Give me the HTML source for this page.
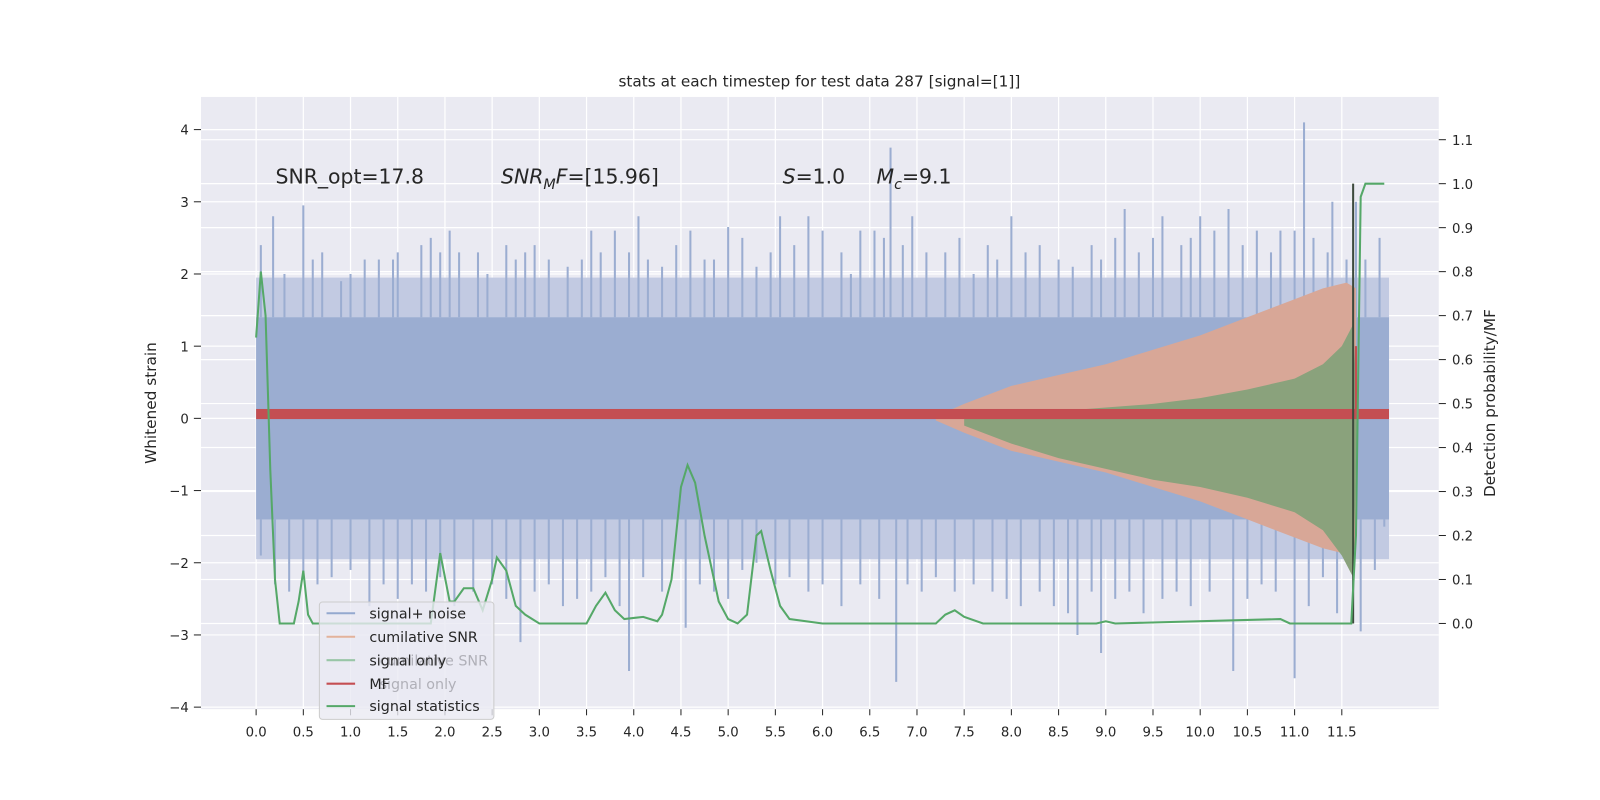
<!DOCTYPE html>
<html><head><meta charset="utf-8">
<style>
html,body{margin:0;padding:0;width:1600px;height:800px;overflow:hidden;background:#fff;}
svg{display:block;position:absolute;left:0;top:0;font-family:"DejaVu Sans","Liberation Sans",sans-serif;}
</style></head>
<body>
<svg id="chart" width="1600" height="800" viewBox="0 0 1600 800" xmlns="http://www.w3.org/2000/svg">
<g transform="scale(1.0204)">
<rect x="197" y="95" width="1213" height="600" fill="#eaeaf2"/>
<g id="grid"></g>
<g id="marks"></g>
<g id="axes"></g>
<text x="803" y="85" text-anchor="middle" font-size="15" fill="#262626">stats at each timestep for test data 287 [signal=[1]]</text>
<text x="270" y="180" font-size="20" fill="#262626">SNR_opt=17.8</text>
<text x="491" y="180" font-size="20" fill="#262626"><tspan font-style="italic">SNR</tspan><tspan font-style="italic" font-size="14" dy="5">M</tspan><tspan font-style="italic" dy="-5">F</tspan>=[15.96]</text>
<text x="767" y="180" font-size="20" fill="#262626"><tspan font-style="italic">S</tspan>=1.0</text>
<text x="859" y="180" font-size="20" fill="#262626"><tspan font-style="italic">M</tspan><tspan font-style="italic" font-size="14" dy="5">c</tspan><tspan dy="-5">=9.1</tspan></text>
<text transform="translate(153,395) rotate(-90)" text-anchor="middle" font-size="15" fill="#262626">Whitened strain</text>
<text transform="translate(1465,395) rotate(-90)" text-anchor="middle" font-size="15" fill="#262626">Detection probability/MF</text>
<g>
<rect x="313" y="590" width="171" height="115" rx="3" fill="#eaeaf2" fill-opacity="0.8" stroke="#cccccc"/>
<text x="372" y="652" font-size="14" fill="#b0b0b8">cumilative SNR</text>
<text x="372" y="675" font-size="14" fill="#b0b0b8">signal only</text>
<g><line x1="320" y1="601" x2="348" y2="601" stroke="#4c72b0" stroke-opacity="0.55" stroke-width="2"/><text x="362" y="606" font-size="14" fill="#262626">signal+ noise</text></g>
<g><line x1="320" y1="624" x2="348" y2="624" stroke="#dd8452" stroke-opacity="0.55" stroke-width="2"/><text x="362" y="629" font-size="14" fill="#262626">cumilative SNR</text></g>
<g><line x1="320" y1="647" x2="348" y2="647" stroke="#55a868" stroke-opacity="0.55" stroke-width="2"/><text x="362" y="652" font-size="14" fill="#262626">signal only</text></g>
<g><line x1="320" y1="670" x2="348" y2="670" stroke="#c44e52" stroke-width="2"/><text x="362" y="675" font-size="14" fill="#262626">MF</text></g>
<g><line x1="320" y1="692" x2="348" y2="692" stroke="#55a868" stroke-width="2"/><text x="362" y="697" font-size="14" fill="#262626">signal statistics</text></g>
</g>
</g>
</svg>
<script>
const xTicks=[0,0.5,1,1.5,2,2.5,3,3.5,4,4.5,5,5.5,6,6.5,7,7.5,8,8.5,9,9.5,10,10.5,11,11.5];
const yTicks=[-4,-3,-2,-1,0,1,2,3,4];
const y2Ticks=[0,0.1,0.2,0.3,0.4,0.5,0.6,0.7,0.8,0.9,1.0,1.1];
const coreBand=[1.4,-1.4];
const fringeBand=[1.95,-1.95];
const tEnd=12.0;
const topSpikeT=[0.05,0.18,0.3,0.5,0.6,0.7,0.9,1.0,1.15,1.3,1.45,1.5,1.75,1.85,1.95,2.05,2.15,2.35,2.45,2.65,2.75,2.85,2.95,3.1,3.3,3.45,3.55,3.65,3.8,3.95,4.05,4.15,4.3,4.45,4.6,4.75,4.85,5.0,5.15,5.3,5.45,5.55,5.7,5.85,6.0,6.2,6.3,6.4,6.55,6.65,6.72,6.85,6.95,7.1,7.3,7.45,7.6,7.75,7.85,8.0,8.15,8.3,8.5,8.65,8.85,8.95,9.1,9.2,9.35,9.5,9.6,9.8,9.9,10.0,10.15,10.3,10.45,10.6,10.75,10.85,11.0,11.1,11.2,11.35,11.4,11.55,11.65,11.75,11.9];
const topSpikeV=[2.4,2.8,2.0,2.95,2.2,2.3,1.9,2.0,2.2,2.2,2.2,2.3,2.4,2.5,2.3,2.6,2.3,2.3,2.0,2.4,2.2,2.3,2.4,2.2,2.1,2.2,2.6,2.3,2.6,2.3,2.8,2.2,2.1,2.4,2.6,2.2,2.2,2.65,2.5,2.1,2.3,2.8,2.4,2.8,2.6,2.3,2.0,2.6,2.6,2.5,3.75,2.4,2.8,2.3,2.3,2.5,2.0,2.4,2.2,2.8,2.3,2.4,2.2,2.1,2.4,2.2,2.5,2.9,2.3,2.5,2.8,2.4,2.5,2.8,2.6,2.9,2.4,2.6,2.3,2.6,2.6,4.1,2.5,2.3,3.0,2.2,3.0,2.2,2.5];
const botSpikeT=[0.05,0.2,0.35,0.5,0.65,0.8,1.0,1.2,1.35,1.5,1.65,1.8,1.95,2.1,2.3,2.5,2.65,2.8,2.95,3.1,3.25,3.4,3.55,3.7,3.85,3.95,4.1,4.3,4.55,4.7,4.85,5.0,5.15,5.3,5.5,5.65,5.85,6.0,6.2,6.4,6.6,6.78,6.9,7.05,7.2,7.4,7.6,7.8,7.95,8.1,8.3,8.45,8.6,8.7,8.85,8.95,9.1,9.25,9.4,9.6,9.75,9.9,10.1,10.35,10.5,10.65,10.8,11.0,11.15,11.3,11.45,11.7,11.85,11.95];
const botSpikeV=[-1.9,-2.3,-2.4,-2.2,-2.3,-2.2,-2.1,-2.6,-2.3,-2.5,-2.3,-2.4,-2.2,-2.6,-2.4,-2.3,-2.5,-3.1,-2.4,-2.3,-2.6,-2.5,-2.4,-2.2,-2.6,-3.5,-2.2,-2.4,-2.9,-2.3,-2.4,-2.5,-2.1,-2.0,-2.3,-2.2,-2.4,-2.3,-2.6,-2.3,-2.5,-3.65,-2.3,-2.4,-2.2,-2.4,-2.3,-2.4,-2.5,-2.6,-2.4,-2.6,-2.7,-3.0,-2.4,-3.25,-2.5,-2.4,-2.7,-2.5,-2.4,-2.6,-2.4,-3.5,-2.5,-2.3,-2.4,-3.6,-2.6,-2.2,-2.7,-2.95,-2.1,-1.5];
const snrT=[7.2,7.5,8,8.5,9,9.5,10,10.5,11,11.3,11.55,11.65];
const snrV=[0.03,0.2,0.45,0.6,0.75,0.95,1.15,1.4,1.65,1.8,1.88,1.8];
const sigT=[7.5,8,8.5,9,9.5,10,10.5,11,11.3,11.5,11.62,11.66];
const sigUp=[0.02,0.05,0.1,0.15,0.2,0.28,0.4,0.55,0.75,1.0,1.3,0.2];
const sigLow=[-0.1,-0.35,-0.55,-0.7,-0.85,-0.95,-1.1,-1.3,-1.55,-1.9,-2.2,-0.2];
const mfBand=[0.13,-0.01];
const mfSpikeT=11.65, mfSpikeV=1.0;
const statT=[0,0.05,0.1,0.15,0.2,0.25,0.3,0.4,0.45,0.5,0.55,0.6,1.85,1.95,2.05,2.1,2.2,2.3,2.4,2.5,2.55,2.65,2.75,2.85,3.0,3.5,3.6,3.7,3.8,3.9,4.1,4.25,4.3,4.4,4.5,4.57,4.65,4.75,4.9,5.0,5.1,5.2,5.3,5.35,5.45,5.55,5.65,6.0,7.2,7.3,7.4,7.5,7.7,8.9,9.0,9.1,10.85,10.95,11.6,11.65,11.7,11.75,11.95];
const statV=[0.65,0.8,0.7,0.35,0.1,0.0,0.0,0.0,0.05,0.12,0.02,0.0,0.0,0.16,0.05,0.05,0.08,0.08,0.03,0.1,0.15,0.12,0.04,0.02,0.0,0.0,0.04,0.07,0.03,0.01,0.015,0.005,0.02,0.1,0.31,0.36,0.32,0.2,0.05,0.01,0.0,0.02,0.2,0.21,0.12,0.04,0.01,0.0,0.0,0.02,0.03,0.015,0.0,0.0,0.005,0.0,0.01,0.0,0.0,0.2,0.97,1.0,1.0];

const X=t=>251+t*92.52, Y=v=>410-v*70.75, Y2=p=>611-p*431;
const NS="http://www.w3.org/2000/svg";
function mk(tag,attrs,parent){const e=document.createElementNS(NS,tag);for(const k in attrs)e.setAttribute(k,attrs[k]);parent.appendChild(e);return e;}
const grid=document.getElementById('grid'),marks=document.getElementById('marks'),axes=document.getElementById('axes');
xTicks.forEach(t=>{const l=mk('line',{x1:X(t),x2:X(t),y1:95,y2:695,stroke:'#fff','stroke-width':1.2},grid);

const tx=mk('text',{x:X(t),y:722,'text-anchor':'middle','font-size':13,fill:'#262626'},axes);tx.textContent=t.toFixed(1);

mk('line',{x1:X(t),x2:X(t),y1:695,y2:701,stroke:'#262626'},axes);});
yTicks.forEach(v=>{const l=mk('line',{x1:197,x2:1410,y1:Y(v),y2:Y(v),stroke:'#fff','stroke-width':1.2},grid);

mk('line',{x1:190,x2:197,y1:Y(v),y2:Y(v),stroke:'#262626'},axes);
const tx=mk('text',{x:185,y:Y(v)+5,'text-anchor':'end','font-size':13,fill:'#262626'},axes);tx.textContent=v<0?'\u2212'+(-v):v;
});
y2Ticks.forEach(p=>{const l=mk('line',{x1:197,x2:1410,y1:Y2(p),y2:Y2(p),stroke:'#fff','stroke-width':1.2},grid);

mk('line',{x1:1410,x2:1417,y1:Y2(p),y2:Y2(p),stroke:'#262626'},axes);
const tx=mk('text',{x:1423,y:Y2(p)+5,'font-size':13,fill:'#262626'},axes);tx.textContent=p.toFixed(1);
});
const fr=mk('rect',{x:X(0),y:Y(fringeBand[0]),width:X(tEnd)-X(0),height:Y(fringeBand[1])-Y(fringeBand[0]),fill:'#c2cae2'},marks);

const co=mk('rect',{x:X(0),y:Y(coreBand[0]),width:X(tEnd)-X(0),height:Y(coreBand[1])-Y(coreBand[0]),fill:'#9badd1'},marks);

topSpikeT.forEach((t,i)=>{const l=mk('line',{x1:X(t),x2:X(t),y1:Y(coreBand[0]),y2:Y(topSpikeV[i]),stroke:'#9badd1','stroke-width':2},marks);
});
botSpikeT.forEach((t,i)=>{const l=mk('line',{x1:X(t),x2:X(t),y1:Y(coreBand[1]),y2:Y(botSpikeV[i]),stroke:'#9badd1','stroke-width':2},marks);
});
let d='M'+snrT.map((t,i)=>X(t)+','+Y(snrV[i])).join('L')+'L'+snrT.slice().reverse().map((t,i)=>X(t)+','+Y(-snrV[snrV.length-1-i])).join('L')+'Z';
const sp=mk('path',{d:d,fill:'#d8a797'},marks);
d='M'+sigT.map((t,i)=>X(t)+','+Y(sigUp[i])).join('L')+'L'+sigT.slice().reverse().map((t,i)=>X(t)+','+Y(sigLow[sigLow.length-1-i])).join('L')+'Z';
const gp=mk('path',{d:d,fill:'#8aa27c'},marks);
const mf=mk('rect',{x:X(0),y:Y(mfBand[0]),width:X(tEnd)-X(0),height:Y(mfBand[1])-Y(mfBand[0]),fill:'#c44e52'},marks);

const ms=mk('line',{x1:X(mfSpikeT),x2:X(mfSpikeT),y1:Y(0),y2:Y(mfSpikeV),stroke:'#c44e52','stroke-width':2},marks);

const dk=mk('line',{x1:X(11.62),x2:X(11.62),y1:Y2(1.0),y2:Y2(-0.0),stroke:'#3d4a3d','stroke-width':2},marks);

const st=mk('polyline',{points:statT.map((t,i)=>X(t)+','+Y2(statV[i])).join(' '),fill:'none',stroke:'#55a868','stroke-width':2},marks);

</script>
</body></html>
